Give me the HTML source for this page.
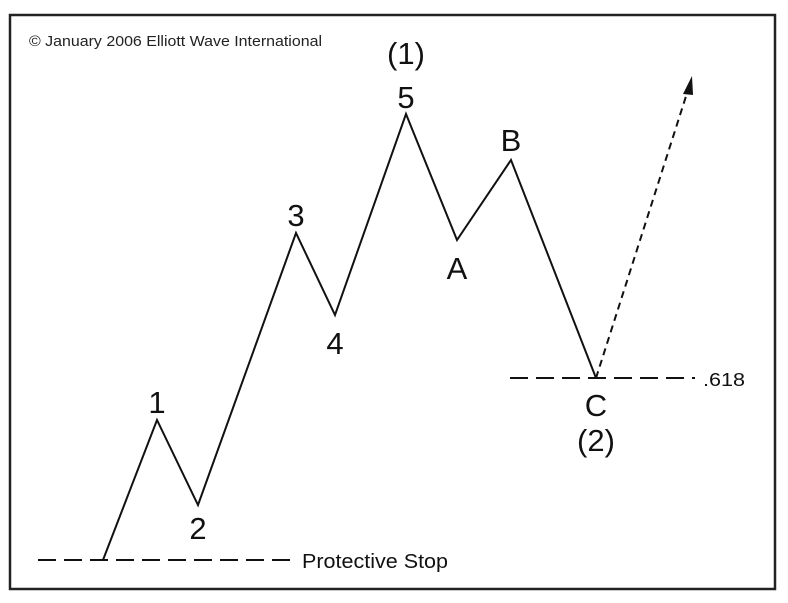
<!DOCTYPE html>
<html><head><style>
html,body{margin:0;padding:0;background:#fff;}
svg{display:block;}
</style></head><body>
<svg width="788" height="603" viewBox="0 0 788 603" xmlns="http://www.w3.org/2000/svg" font-family="Liberation Sans, Arial, sans-serif">
<rect x="10" y="15" width="765" height="574" fill="#fff" stroke="#222" stroke-width="2.5"/>
<text x="29" y="46" font-size="15" fill="#222" textLength="293" lengthAdjust="spacingAndGlyphs">© January 2006 Elliott Wave International</text>
<polyline points="103,560 157,420 198,505 296,233 335,315 406,114 457,240 511,160 596,378" fill="none" stroke="#111" stroke-width="2"/>
<line x1="38" y1="560" x2="296" y2="560" stroke="#111" stroke-width="2" stroke-dasharray="18,8"/>
<line x1="510" y1="378" x2="695" y2="378" stroke="#111" stroke-width="2" stroke-dasharray="18,8"/>
<line x1="596" y1="378" x2="688" y2="90" stroke="#111" stroke-width="2" stroke-dasharray="7,5"/>
<polygon points="692,76 683,94 693,95" fill="#111"/>
<g font-size="31" fill="#111" text-anchor="middle">
<text x="157" y="413">1</text>
<text x="198" y="539">2</text>
<text x="296" y="226">3</text>
<text x="335" y="354">4</text>
<text x="406" y="108">5</text>
<text x="406" y="64">(1)</text>
<text x="511" y="151">B</text>
<text x="457" y="279">A</text>
<text x="596" y="416">C</text>
<text x="596" y="451">(2)</text>
</g>
<text x="703" y="386" font-size="18" fill="#111" textLength="42" lengthAdjust="spacingAndGlyphs">.618</text>
<text x="302" y="568" font-size="20" fill="#111" textLength="146" lengthAdjust="spacingAndGlyphs">Protective Stop</text>
</svg>
</body></html>
